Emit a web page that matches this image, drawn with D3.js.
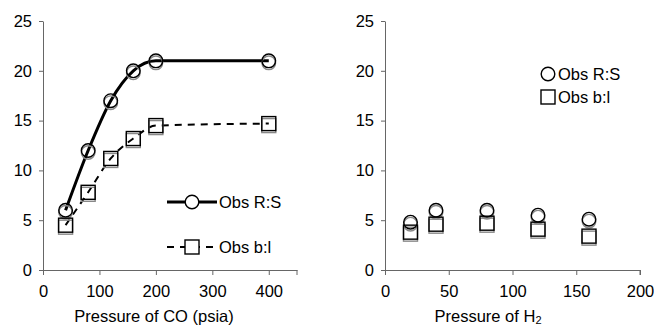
<!DOCTYPE html>
<html>
<head>
<meta charset="utf-8">
<title>Pressure of CO / H2</title>
<script src="https://d3js.org/d3.v7.min.js"></script>
<style>
  body { margin: 0; background: #fff; }
  text { font-family: "Liberation Sans", Arial, sans-serif; }
</style>
</head>
<body>
<div id="chart"></div>
<script>
// left panel: pressure of CO
var coPressure = [40, 80, 120, 160, 200, 400]
var coRS = [6.0, 12.0, 17.0, 20.0, 21.0, 21.0]
var coBL = [4.5, 7.8, 11.2, 13.2, 14.5, 14.7]
// right panel: pressure of H2
var h2Pressure = [20, 40, 80, 120, 160]
var h2RS = [4.8, 6.0, 6.0, 5.5, 5.1]
var h2BL = [3.8, 4.6, 4.7, 4.1, 3.4]
var yTicks = [0, 5, 10, 15, 20, 25]
var coTicks = [0, 100, 200, 300, 400]
var h2Ticks = [0, 50, 100, 150, 200]

var W = 654, H = 325
var svg = d3.select("#chart").append("svg")
    .attr("width", W).attr("height", H)

var axisColor = "#666"
var fs = "16.5px"
var plotTop = 21, plotBottom = 270

function panel(opts) {
    var x = d3.scaleLinear().domain(opts.xDomain).range([opts.x0, opts.x1])
    var y = d3.scaleLinear().domain([0, 25]).range([plotBottom, plotTop])
    var g = svg.append("g")

    // axes
    var ya = g.append("g")
        .attr("transform", "translate(" + opts.x0 + ",0)")
        .call(d3.axisLeft(y).tickValues(yTicks).tickSize(4).tickPadding(7).tickSizeOuter(0))
    var xa = g.append("g")
        .attr("transform", "translate(0," + plotBottom + ")")
        .call(d3.axisBottom(x).tickValues(opts.xTicks).tickSize(5).tickPadding(10).tickSizeOuter(0))
    ;[ya, xa].forEach(function(a) {
        a.selectAll("path, line").attr("stroke", axisColor).attr("stroke-width", 1)
        a.selectAll("text").attr("fill", "#000").style("font-size", fs)
    })
    // extra tick at the end of x axis
    g.append("line")
        .attr("x1", opts.x1).attr("x2", opts.x1)
        .attr("y1", plotBottom).attr("y2", plotBottom + 5)
        .attr("stroke", axisColor)

    // lines
    if (opts.lines) {
        var line = d3.line()
            .x(function(d) { return x(d[0]) })
            .y(function(d) { return y(d[1]) })
            .curve(d3.curveMonotoneX)
        g.append("path")
            .attr("d", line(d3.zip(opts.px, opts.rs)))
            .attr("fill", "none").attr("stroke", "#000").attr("stroke-width", 3)
        g.append("path")
            .attr("d", line(d3.zip(opts.px, opts.bl)))
            .attr("fill", "none").attr("stroke", "#000").attr("stroke-width", 2)
            .attr("stroke-dasharray", "7,6")
    }

    // markers, drawn twice (gray shadow + black) like the original
    ;[["#888", 2], ["#000", 0]].forEach(function(s) {
        g.selectAll(null).data(d3.zip(opts.px, opts.bl)).enter().append("rect")
            .attr("x", function(d) { return x(d[0]) - 7 })
            .attr("y", function(d) { return y(d[1]) - 7 + s[1] })
            .attr("width", 14).attr("height", 14)
            .attr("fill", "none").attr("stroke", s[0]).attr("stroke-width", 1.4)
        g.selectAll(null).data(d3.zip(opts.px, opts.rs)).enter().append("circle")
            .attr("cx", function(d) { return x(d[0]) })
            .attr("cy", function(d) { return y(d[1]) + s[1] })
            .attr("r", 6.8)
            .attr("fill", "none").attr("stroke", s[0]).attr("stroke-width", 1.4)
    })

    // axis title
    var t = g.append("text")
        .attr("x", opts.titleX).attr("y", 322)
        .attr("text-anchor", "middle")
        .style("font-size", fs)
        .text(opts.title)
    if (opts.sub) {
        t.append("tspan").attr("dy", 2).style("font-size", "11px").text(opts.sub)
    }
    return {g: g, x: x, y: y}
}

var left = panel({
    xDomain: [0, 450], x0: 43, x1: 297, xTicks: coTicks,
    px: coPressure, rs: coRS, bl: coBL, lines: true,
    title: "Pressure of CO (psia)", titleX: 154
})
var right = panel({
    xDomain: [0, 200], x0: 385, x1: 640, xTicks: h2Ticks,
    px: h2Pressure, rs: h2RS, bl: h2BL, lines: false,
    title: "Pressure of H", sub: "2", titleX: 488
})

// legend, left panel
var lg = left.g
lg.append("line").attr("x1", 167).attr("x2", 217).attr("y1", 202).attr("y2", 202)
    .attr("stroke", "#000").attr("stroke-width", 3)
lg.append("circle").attr("cx", 192).attr("cy", 202).attr("r", 6.8)
    .attr("fill", "#fff").attr("stroke", "#000").attr("stroke-width", 1.4)
lg.append("text").attr("x", 219).attr("y", 208).style("font-size", fs).text("Obs R:S")
lg.append("line").attr("x1", 167).attr("x2", 217).attr("y1", 247).attr("y2", 247)
    .attr("stroke", "#000").attr("stroke-width", 2).attr("stroke-dasharray", "7,6")
lg.append("rect").attr("x", 185).attr("y", 240).attr("width", 14).attr("height", 14)
    .attr("fill", "#fff").attr("stroke", "#000").attr("stroke-width", 1.4)
lg.append("text").attr("x", 219).attr("y", 253).style("font-size", fs).text("Obs b:l")

// legend, right panel
var rg = right.g
rg.append("circle").attr("cx", 548).attr("cy", 74).attr("r", 6.8)
    .attr("fill", "none").attr("stroke", "#000").attr("stroke-width", 1.4)
rg.append("text").attr("x", 558).attr("y", 80).style("font-size", fs).text("Obs R:S")
rg.append("rect").attr("x", 541).attr("y", 90).attr("width", 14).attr("height", 14)
    .attr("fill", "none").attr("stroke", "#000").attr("stroke-width", 1.4)
rg.append("text").attr("x", 558).attr("y", 103).style("font-size", fs).text("Obs b:l")
</script>
</body>
</html>
